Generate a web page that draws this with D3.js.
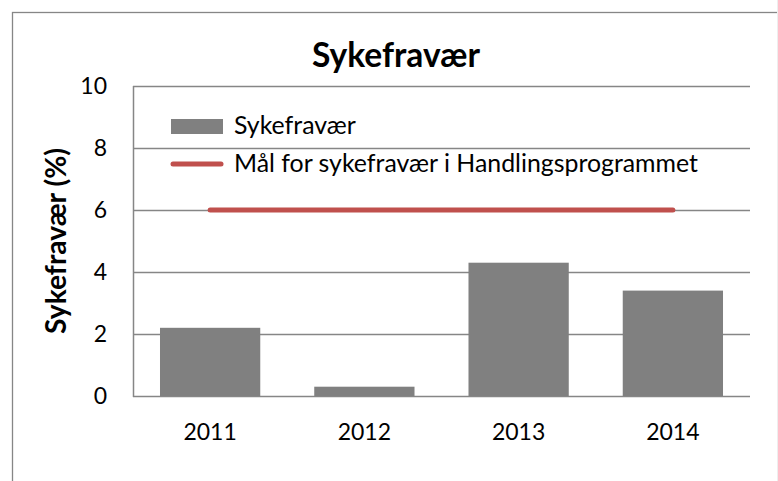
<!DOCTYPE html>
<html>
<head>
<meta charset="utf-8">
<script src="https://cdn.jsdelivr.net/npm/d3@7"></script>
<style>
  html, body { margin: 0; padding: 0; background: #fff; overflow: hidden; }
  svg { display: block; font-family: Lato, "Open Sans", sans-serif; }
</style>
</head>
<body>
<svg id="chart" width="778" height="481"></svg>
<script>
const years = ["2011", "2012", "2013", "2014"];
const sickLeave = [2.2, 0.3, 4.3, 3.4];
const target = [6, 6, 6, 6];
const yTicks = [0, 2, 4, 6, 8, 10];
const titleText = "Sykefravær";
const yTitle = "Sykefravær (%)";
const legendLabels = ["Sykefravær", "Mål for sykefravær i Handlingsprogrammet"];

const svg = d3.select("#chart");
const grey = "#868686";
const barColor = "#808080";
const lineColor = "#c0504d";

// helper: fit text to target width
function fit(sel, w) {
  const n = sel.node();
  const fs = parseFloat(sel.attr("font-size"));
  const len = n.getComputedTextLength();
  sel.attr("font-size", (fs * w / len).toFixed(2));
  return sel;
}

// outer frame (cropped on right/bottom)
svg.append("rect").attr("x", 12.5).attr("y", 12.5).attr("width", 800).attr("height", 520)
  .attr("fill", "none").attr("stroke", grey).attr("stroke-width", 1.3);
svg.append("line").attr("x1", 777.5).attr("x2", 777.5).attr("y1", 0).attr("y2", 481)
  .attr("stroke", "#eeeeee").attr("stroke-width", 1);

const x = d3.scaleBand().domain(years).range([133, 750]).paddingInner(0.35).paddingOuter(0.175);
const y = d3.scaleLinear().domain([0, 10]).range([396, 86]);

// gridlines
svg.append("g").selectAll("line").data(yTicks).join("line")
  .attr("x1", 133).attr("x2", 750)
  .attr("y1", d => y(d) + 0.5).attr("y2", d => y(d) + 0.5)
  .attr("stroke", grey).attr("stroke-width", 1.5);

// left axis line
svg.append("line").attr("x1", 133.5).attr("x2", 133.5).attr("y1", y(10)).attr("y2", y(0) + 1)
  .attr("stroke", grey).attr("stroke-width", 1.5);

// y tick labels
svg.append("g").selectAll("text").data(yTicks).join("text")
  .attr("x", 107).attr("y", d => y(d) + 8)
  .attr("text-anchor", "end").attr("font-size", 23).attr("fill", "#000")
  .text(d => d);

// bars
svg.append("g").selectAll("rect").data(years).join("rect")
  .attr("x", d => x(d)).attr("width", x.bandwidth())
  .attr("y", (d, i) => y(sickLeave[i]))
  .attr("height", (d, i) => y(0) - y(sickLeave[i]))
  .attr("fill", barColor);

// target line
const line = d3.line().x((d, i) => x(years[i]) + x.bandwidth() / 2).y(d => y(d));
svg.append("path").datum(target).attr("d", line)
  .attr("fill", "none").attr("stroke", lineColor).attr("stroke-width", 5)
  .attr("stroke-linecap", "round");

// x labels
svg.append("g").selectAll("text").data(years).join("text")
  .attr("x", d => x(d) + x.bandwidth() / 2).attr("y", 440)
  .attr("text-anchor", "middle").attr("font-size", 23).attr("fill", "#000")
  .text(d => d);

// title
const t = svg.append("text").attr("x", 396).attr("y", 67).attr("text-anchor", "middle")
  .attr("font-size", 30).attr("font-weight", "bold").attr("fill", "#000").text(titleText);
fit(t, 168);

// y title
const yt = svg.append("text").attr("transform", "translate(66,241) rotate(-90)")
  .attr("text-anchor", "middle").attr("font-size", 22).attr("font-weight", "bold")
  .attr("fill", "#000").text(yTitle);
fit(yt, 186);

// legend
const lg = svg.append("g");
lg.append("rect").attr("x", 171).attr("y", 119).attr("width", 52).attr("height", 15).attr("fill", barColor);
lg.append("line").attr("x1", 173).attr("x2", 221).attr("y1", 164).attr("y2", 164)
  .attr("stroke", lineColor).attr("stroke-width", 5).attr("stroke-linecap", "round");
const l1 = lg.append("text").attr("x", 234).attr("y", 134).attr("font-size", 24).attr("fill", "#000").text(legendLabels[0]);
const l2 = lg.append("text").attr("x", 234).attr("y", 172).attr("font-size", 24).attr("fill", "#000").text(legendLabels[1]);
fit(l2, 464);
l1.attr("font-size", l2.attr("font-size"));
</script>
</body>
</html>
